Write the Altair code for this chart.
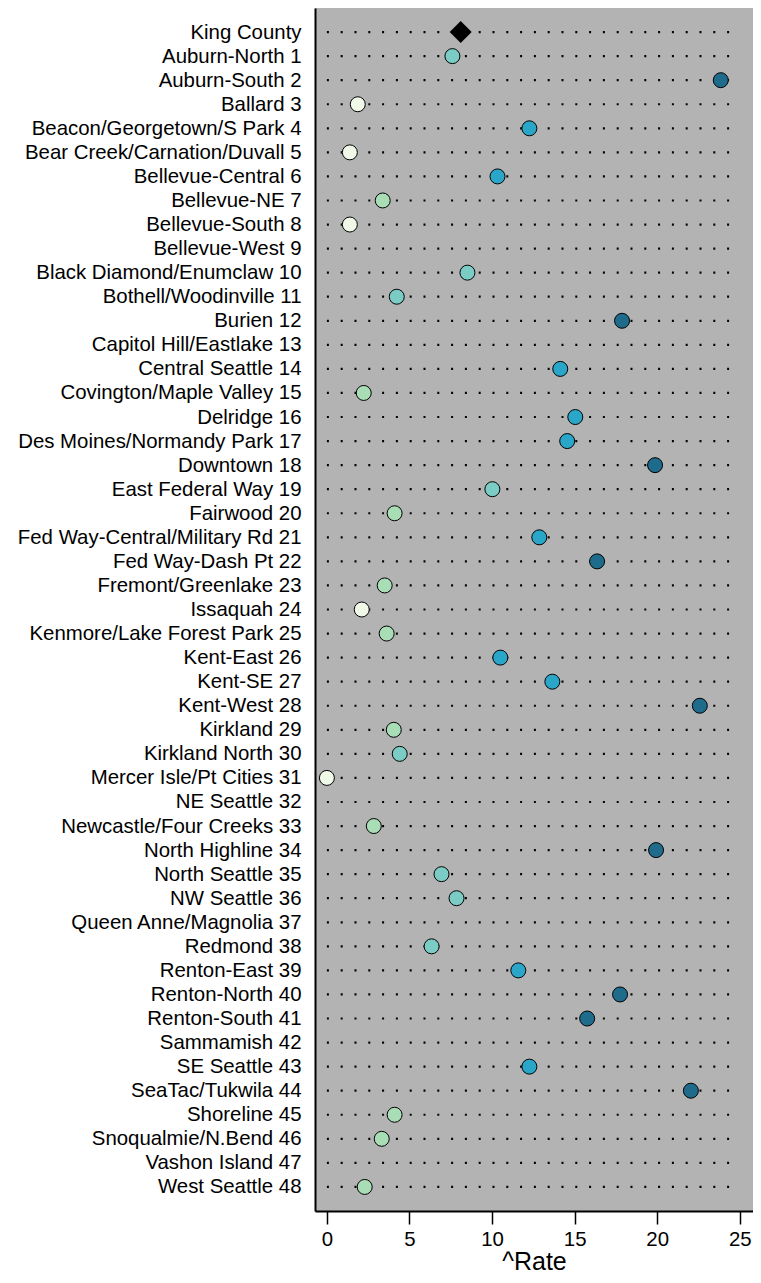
import altair as alt
import pandas as pd

names = [
    "King County\u00a0", "Auburn-North 1", "Auburn-South 2", "Ballard 3", "Beacon/Georgetown/S Park 4",
    "Bear Creek/Carnation/Duvall 5", "Bellevue-Central 6", "Bellevue-NE 7", "Bellevue-South 8",
    "Bellevue-West 9", "Black Diamond/Enumclaw 10", "Bothell/Woodinville 11", "Burien 12",
    "Capitol Hill/Eastlake 13", "Central Seattle 14", "Covington/Maple Valley 15", "Delridge 16",
    "Des Moines/Normandy Park 17", "Downtown 18", "East Federal Way 19", "Fairwood 20",
    "Fed Way-Central/Military Rd 21", "Fed Way-Dash Pt 22", "Fremont/Greenlake 23", "Issaquah 24",
    "Kenmore/Lake Forest Park 25", "Kent-East 26", "Kent-SE 27", "Kent-West 28", "Kirkland 29",
    "Kirkland North 30", "Mercer Isle/Pt Cities 31", "NE Seattle 32", "Newcastle/Four Creeks 33",
    "North Highline 34", "North Seattle 35", "NW Seattle 36", "Queen Anne/Magnolia 37",
    "Redmond 38", "Renton-East 39", "Renton-North 40", "Renton-South 41", "Sammamish 42",
    "SE Seattle 43", "SeaTac/Tukwila 44", "Shoreline 45", "Snoqualmie/N.Bend 46",
    "Vashon Island 47", "West Seattle 48",
]
rates = [
    8.1, 7.6, 23.85, 1.87, 12.26,
    1.39, 10.33, 3.38, 1.39,
    None, 8.51, 4.23, 17.87,
    None, 14.13, 2.23, 15.04,
    14.55, 19.87, 10.02, 4.1,
    12.86, 16.36, 3.5, 2.11,
    3.62, 10.5, 13.65, 22.58, 4.05,
    4.41, 0.0, None, 2.84,
    19.93, 6.94, 7.85, None,
    6.34, 11.59, 17.75, 15.76, None,
    12.26, 22.04, 4.1, 3.32,
    None, 2.29,
]
x_ticks = [0, 5, 10, 15, 20, 25]
bin_breaks = [2.2, 4.2, 10.2, 15.5]
bin_colors = ["#f0f9e8", "#a8ddb5", "#7bccc4", "#2aa6c9", "#1f6b8c"]

df = pd.DataFrame({"name": names, "rate": rates})
df["is_county"] = [i == 0 for i in range(len(names))]
df["x0"] = x_ticks[0]
df["x1"] = x_ticks[-1]

FONT = "Liberation Sans"

y_enc = alt.Y(
    "name:N",
    sort=names,
    scale=alt.Scale(type="point", padding=1),
    axis=alt.Axis(
        title=None, ticks=False, labelFontSize=20.4, labelColor="black", labelPadding=14,
        labelFont=FONT, labelLimit=0, domainColor="black", domainWidth=2, grid=False,
    ),
)
x_scale = alt.Scale(domain=[-0.72, 25.8], nice=False, zero=False)
x_axis = alt.Axis(
    values=x_ticks, title="^Rate", titleFontSize=25, titleFont=FONT,
    titleFontWeight="normal", titleColor="black", titlePadding=0,
    labelFontSize=20.4, labelFont=FONT, labelColor="black", labelPadding=5,
    tickSize=13, tickWidth=1.5, tickColor="black", domainColor="black", domainWidth=2,
    grid=False,
)

base = alt.Chart(df)

rules = base.mark_rule(color="black", strokeWidth=2.2, strokeDash=[2, 11.8]).encode(
    y=y_enc,
    x=alt.X("x0:Q", scale=x_scale, axis=x_axis),
    x2="x1:Q",
)

pts = base.transform_filter(
    "datum.rate != null && !datum.is_county"
).mark_point(shape="circle", filled=True, size=225, stroke="black", strokeWidth=1, opacity=1).encode(
    y=alt.Y("name:N", sort=names),
    x=alt.X("rate:Q", scale=x_scale),
    fill=alt.Fill("rate:Q", scale=alt.Scale(type="threshold", domain=bin_breaks, range=bin_colors), legend=None),
)

county = base.transform_filter("datum.is_county").mark_point(
    shape="diamond", filled=True, size=484, color="black", opacity=1
).encode(
    y=alt.Y("name:N", sort=names),
    x=alt.X("rate:Q", scale=x_scale),
)

chart = alt.layer(rules, pts, county).properties(
    width=438, height=1203,
    autosize=alt.AutoSizeParams(type="none"),
    padding={"left": 307, "top": 0, "right": 0, "bottom": 64},
    background="white",
).configure_view(fill="#b3b3b3", stroke=None)

chart.save("out.html", embed_options={"renderer": "svg", "actions": False})
